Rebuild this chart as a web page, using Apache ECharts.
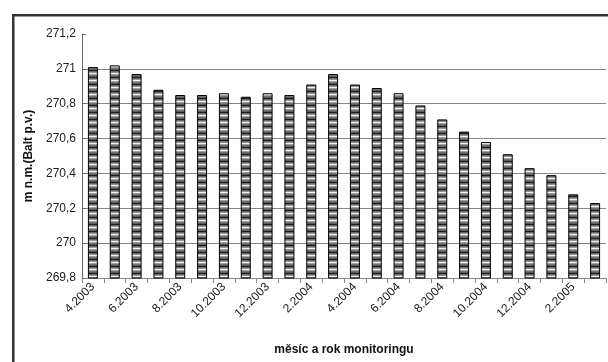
<!DOCTYPE html>
<html>
<head>
<meta charset="utf-8">
<script src="https://cdn.jsdelivr.net/npm/echarts@6/dist/echarts.min.js"></script>
<style>
html,body{margin:0;padding:0;background:#fff;}
#c{width:608px;height:362px;}
</style>
</head>
<body>
<div id="c"></div>
<script>
var categories = ["4.2003","5.2003","6.2003","7.2003","8.2003","9.2003","10.2003","11.2003","12.2003","1.2004","2.2004","3.2004","4.2004","5.2004","6.2004","7.2004","8.2004","9.2004","10.2004","11.2004","12.2004","1.2005","2.2005","3.2005"];
var levels = [271.01,271.02,270.97,270.88,270.85,270.85,270.86,270.84,270.86,270.85,270.91,270.97,270.91,270.89,270.86,270.79,270.71,270.64,270.58,270.51,270.43,270.39,270.28,270.23];
var yMin = 269.8, yMax = 271.2, yStep = 0.2;
var yTitle = "m n.m.(Balt p.v.)";
var xTitle = "měsíc a rok monitoringu";

// striped fill pattern
var pc = document.createElement('canvas');
pc.width = 4; pc.height = 7;
var ctx = pc.getContext('2d');
var rows = ['#1e1e1e','#6a6a6a','#959595','#f0f0f0','#a0a0a0','#737373','#5c5c5c'];
for (var i = 0; i < rows.length; i++) { ctx.fillStyle = rows[i]; ctx.fillRect(0, i, 4, 1); }

var chart = echarts.init(document.getElementById('c'), null, {renderer: 'canvas'});
var font = 'Liberation Sans, Arial, sans-serif';
chart.setOption({
  animation: false,
  textStyle: {fontFamily: font},
  graphic: [{
    type: 'rect', left: 12, top: 14, z: -1,
    shape: {x: 0, y: 0, width: 620, height: 380},
    style: {fill: '#fff', stroke: '#333', lineWidth: 2.5}
  }],
  grid: {left: 82, right: 2, top: 34, bottom: 84},
  xAxis: {
    type: 'category',
    data: categories,
    boundaryGap: true,
    axisLine: {lineStyle: {color: '#888', width: 1}},
    axisTick: {show: true, interval: 0, length: 5, lineStyle: {color: '#888'}},
    axisLabel: {interval: 1, rotate: 45, fontSize: 12, color: '#222', fontFamily: font, margin: 7},
    name: xTitle,
    nameLocation: 'middle',
    nameGap: 66,
    nameTextStyle: {fontSize: 12, fontWeight: 'bold', color: '#111', fontFamily: font}
  },
  yAxis: {
    type: 'value',
    min: yMin, max: yMax, interval: yStep,
    axisLine: {show: true, lineStyle: {color: '#666', width: 1}},
    axisTick: {show: true, inside: true, length: 4, lineStyle: {color: '#666'}},
    axisLabel: {
      fontSize: 12, color: '#222', fontFamily: font, margin: 6,
      formatter: function (v) { return String(Number(v.toFixed(1))).replace('.', ','); }
    },
    splitLine: {show: true, lineStyle: {color: ['#888','#888','#888','#888','#888','#888','#888','rgba(0,0,0,0)'], width: 1}},
    name: yTitle,
    nameLocation: 'middle',
    nameGap: 44,
    nameTextStyle: {fontSize: 12, fontWeight: 'bold', color: '#111', fontFamily: font}
  },
  series: [{
    type: 'bar',
    data: levels,
    barWidth: 10,
    itemStyle: {
      color: {image: pc, repeat: 'repeat'},
      borderColor: '#000',
      borderWidth: 1
    }
  }]
});
</script>
</body>
</html>
